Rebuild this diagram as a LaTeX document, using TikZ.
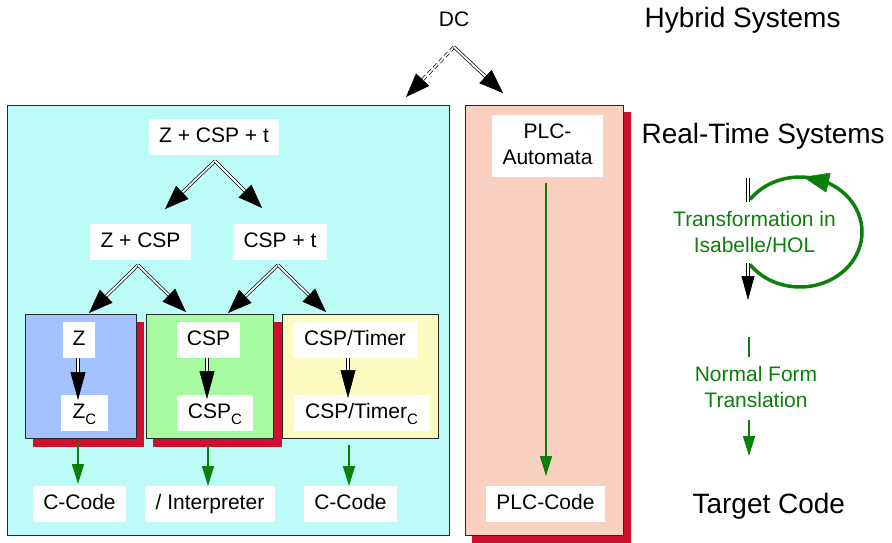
\documentclass[tikz,border=0pt]{standalone}
\usepackage{fontspec}
\setmainfont{Liberation Sans}
\usetikzlibrary{arrows.meta,calc}

\definecolor{panelcyan}{RGB}{188,252,246}
\definecolor{panelsalmon}{RGB}{250,208,192}
\definecolor{shadowred}{RGB}{206,16,48}
\definecolor{boxblue}{RGB}{164,194,255}
\definecolor{boxgreen}{RGB}{166,251,160}
\definecolor{boxyellow}{RGB}{252,252,192}
\definecolor{flowgreen}{RGB}{10,128,10}
\definecolor{edgegray}{RGB}{40,40,40}

\newcommand\subc{\raisebox{-6pt}{\fontsize{15}{15}\selectfont C}}

% double-shafted arrow with a large filled head
% #1 extra shaft options, #2 from, #3 to, #4 head length, #5 head width
\newcommand\dblarrow[5]{%
  \draw[dblshaft,#1] (#2) -- ($(#3)!#4-4pt!(#2)$);
  \draw[line width=0.5pt,-{Triangle[length=#4,width=#5]}] ($(#3)!#4!(#2)$) -- (#3);
}

\begin{document}
\begin{tikzpicture}[x=1pt,y=-1pt,
  txt/.style={font=\fontsize{21}{26}\selectfont},
  big/.style={font=\fontsize{28}{32}\selectfont},
  lbl/.style={txt,fill=white,inner sep=0pt,minimum height=36pt,
              text height=15pt,text depth=4pt},
  panel/.style={draw=edgegray,line width=1pt},
  dblshaft/.style={draw=black,double=white,double distance=1.8pt,line width=0.7pt},
  garrow/.style={draw=flowgreen,line width=1.6pt,-{Triangle[length=20pt,width=12pt]}}]
\useasboundingbox (0,0) rectangle (892,543);

% ---- panels ----
\draw[panel,fill=panelcyan] (7,105) rectangle (449,535);
\fill[shadowred] (472,112) rectangle (631,543);
\draw[panel,fill=panelsalmon] (465,105) rectangle (623,535);

\fill[shadowred] (33,322) rectangle (144,447);
\draw[panel,fill=boxblue] (25,314) rectangle (136,438);
\fill[shadowred] (153,322) rectangle (282,447);
\draw[panel,fill=boxgreen] (146,314) rectangle (273,438);
\draw[panel,fill=boxyellow] (282,314) rectangle (438,438);

% ---- labels ----
\node[txt,anchor=base] (dc) at (454,27) {DC};
\node[big,anchor=base west] (hyb) at (641,28) {Hybrid Systems};
\node[big,anchor=base west] (rts) at (638,143) {Real-Time Systems};
\node[big,anchor=base west] (tgt) at (689,513) {Target Code};

\node[lbl,minimum width=130pt] (zcspt) at (214,137) {Z + CSP + t};
\node[lbl,minimum width=101pt] (zcsp) at (140.5,241.5) {Z + CSP};
\node[lbl,minimum width=94pt] (cspt) at (280,241.5) {CSP + t};

\node[lbl,minimum width=32pt] (z) at (79,339.5) {Z};
\node[lbl,minimum width=47pt] (zc) at (84.5,413) {Z\subc};
\node[lbl,minimum width=63pt] (csp) at (208.5,339.5) {CSP};
\node[lbl,minimum width=76pt] (cspc) at (215,413) {CSP\subc};
\node[lbl,minimum width=124pt] (tim) at (355,339.5) {CSP/Timer};
\node[lbl,minimum width=135pt] (timc) at (361.5,413) {CSP/Timer\subc};

\node[lbl,minimum width=93pt] (cc1) at (79.5,504) {C-Code};
\node[lbl,minimum width=130pt] (interp) at (210,504) {/ Interpreter};
\node[lbl,minimum width=93pt] (cc2) at (350.5,504) {C-Code};

\fill[white] (492,115) rectangle (603,177);
\node[txt,inner sep=0pt,align=center,anchor=base] (plca) at (547.5,164) {PLC-\\Automata};
\node[lbl,minimum width=119pt] (plcc) at (545.5,504) {PLC-Code};

\node[txt,text=flowgreen,align=center,anchor=base] (trans) at (754.5,252) {Transformation in\\Isabelle/HOL};
\node[txt,text=flowgreen,align=center,anchor=base] (nft) at (756,407) {Normal Form\\Translation};

% ---- connector end points ----
\coordinate (dcs) at (454,47);
\coordinate (dcl) at (406,97);
\coordinate (dcr) at (503,93);
\coordinate (t0) at (215,161);
\coordinate (tl) at (165,209);
\coordinate (tr) at (262,208);
\coordinate (a0) at (138,265);
\coordinate (al) at (89,313);
\coordinate (ar) at (186,312);
\coordinate (b0) at (278,265);
\coordinate (bl) at (228,313);
\coordinate (br) at (326,312);

% ---- refinement arrows ----
\dblarrow{dash pattern=on 5pt off 3pt}{dcs}{dcl}{24pt}{18pt}
\dblarrow{}{dcs}{dcr}{24pt}{18pt}
\dblarrow{}{t0}{tl}{24pt}{18pt}
\dblarrow{}{t0}{tr}{24pt}{18pt}
\dblarrow{}{a0}{al}{24pt}{18pt}
\dblarrow{}{a0}{ar}{24pt}{18pt}
\dblarrow{}{b0}{bl}{24pt}{18pt}
\dblarrow{}{b0}{br}{24pt}{18pt}

\coordinate (zs) at (78,358);  \coordinate (zt) at (78,400);
\coordinate (cs) at (207,358); \coordinate (ct) at (207,399);
\coordinate (ts) at (348,358); \coordinate (tt) at (348,398);
\dblarrow{}{zs}{zt}{28pt}{15pt}
\dblarrow{}{cs}{ct}{28pt}{15pt}
\dblarrow{}{ts}{tt}{28pt}{15pt}

% ---- code generation arrows ----
\coordinate (g1) at (78,442);  \coordinate (g1t) at (78,484);
\coordinate (g2) at (208,445); \coordinate (g2t) at (208,486);
\coordinate (g3) at (349,445); \coordinate (g3t) at (349,486);
\draw[garrow] (g1) -- (g1t);
\draw[garrow] (g2) -- (g2t);
\draw[garrow] (g3) -- (g3t);
\coordinate (ps) at (546,183);
\coordinate (pt) at (546,476);
\draw[garrow] (ps) -- (pt);

% ---- legend on the right ----
\coordinate (s1) at (748,178);
\coordinate (s2) at (748,202);
\coordinate (s3) at (748,263);
\coordinate (s4) at (748,300);
\draw[dblshaft] (s1) -- (s2);
\dblarrow{}{s3}{s4}{24pt}{13pt}

\coordinate (n1) at (749,337);
\coordinate (n2) at (749,357);
\coordinate (n3) at (749,420);
\coordinate (n4) at (749,456);
\draw[flowgreen,line width=1.6pt] (n1) -- (n2);
\draw[garrow] (n3) -- (n4);

% loop arrow around the transformation label
\draw[flowgreen,line width=3.5pt,line join=round]
  plot[domain=0:287.4,samples=90]
  ({800+62*cos(143.7-\x)},{232+55*sin(143.7-\x)});
\coordinate (lh0) at (830,183);
\coordinate (lh1) at (803,177);
\draw[flowgreen,line width=0.5pt,-{Triangle[length=26pt,width=20pt]}] (lh0) -- (lh1);
\end{tikzpicture}
\end{document}
